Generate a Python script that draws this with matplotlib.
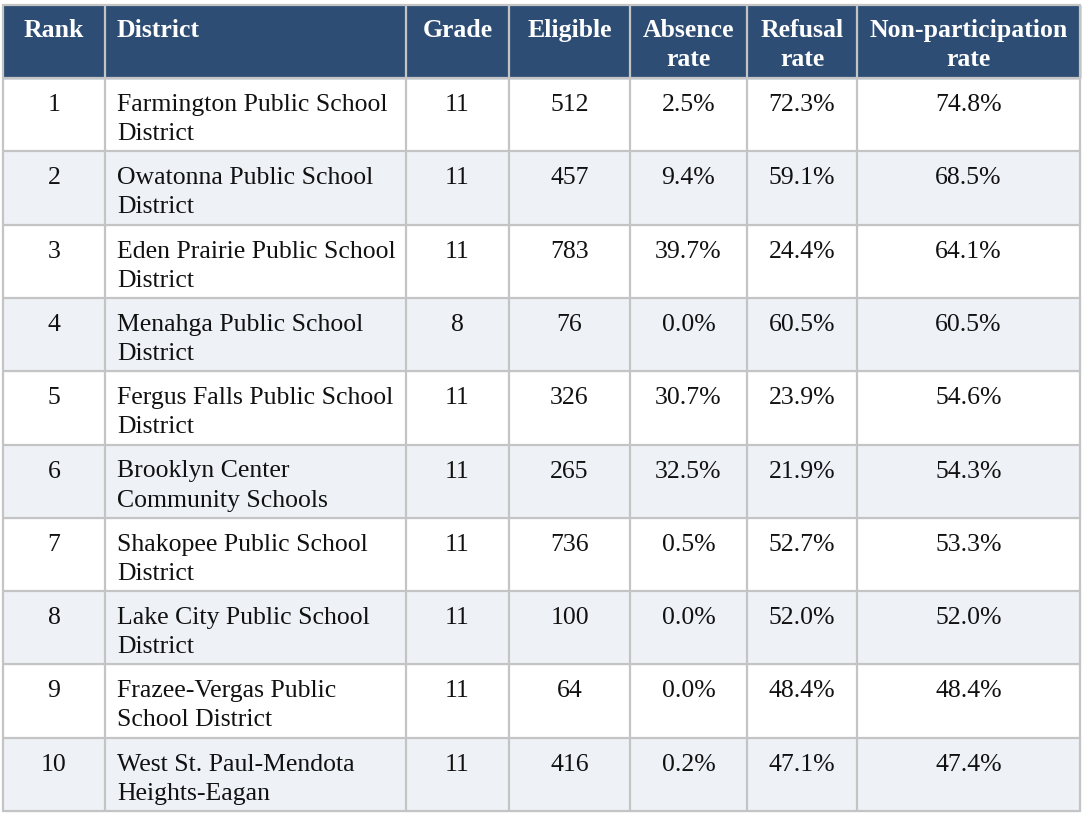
import matplotlib.pyplot as plt
from matplotlib.patches import Rectangle

plt.rcParams['font.family'] = ['Liberation Serif', 'DejaVu Serif']

headers = ['Rank', 'District', 'Grade', 'Eligible', 'Absence\nrate', 'Refusal\nrate',
           'Non-participation\nrate']
ranks = [1, 2, 3, 4, 5, 6, 7, 8, 9, 10]
districts = ['Farmington Public School\nDistrict',
             'Owatonna Public School\nDistrict',
             'Eden Prairie Public School\nDistrict',
             'Menahga Public School\nDistrict',
             'Fergus Falls Public School\nDistrict',
             'Brooklyn Center\nCommunity Schools',
             'Shakopee Public School\nDistrict',
             'Lake City Public School\nDistrict',
             'Frazee-Vergas Public\nSchool District',
             'West St. Paul-Mendota\nHeights-Eagan']
grades = [11, 11, 11, 8, 11, 11, 11, 11, 11, 11]
eligible = [512, 457, 783, 76, 326, 265, 736, 100, 64, 416]
absence = [2.5, 9.4, 39.7, 0.0, 30.7, 32.5, 0.5, 0.0, 0.0, 0.2]
refusal = [72.3, 59.1, 24.4, 60.5, 23.9, 21.9, 52.7, 52.0, 48.4, 47.1]
nonpart = [74.8, 68.5, 64.1, 60.5, 54.6, 54.3, 53.3, 52.0, 48.4, 47.4]

# layout in pixels
col_edges = [3, 105, 406, 509, 630, 747, 857, 1080]
header_top, header_bot = 5, 78
row_h = 73.3
line_h = 29
first_base = 33
fs = 18.5
header_color = '#2e4d75'
stripe = '#eef1f6'
grid = '#c4c4c4'

fig = plt.figure(figsize=(10.84, 8.14), dpi=100)
ax = fig.add_axes([0, 0, 1, 1])
ax.set_xlim(0, 1084)
ax.set_ylim(814, 0)
ax.axis('off')


def put(j, y, s, **kw):
    if j == 1:
        ax.text(col_edges[1] + 12, y, s, ha='left', va='baseline', fontsize=fs, **kw)
    else:
        xc = (col_edges[j] + col_edges[j + 1]) / 2
        ax.text(xc, y, s, ha='center', va='baseline', fontsize=fs, **kw)


# header
ax.add_patch(Rectangle((col_edges[0], header_top), col_edges[-1] - col_edges[0],
                       header_bot - header_top, color=header_color, zorder=1))
for j, h in enumerate(headers):
    for k, ln in enumerate(h.split('\n')):
        put(j, header_top + 32 + k * line_h, ln, color='white', fontweight='bold')

# body
n = len(ranks)
for i in range(n):
    top = header_bot + i * row_h
    if i % 2 == 1:
        ax.add_patch(Rectangle((col_edges[0], top), col_edges[-1] - col_edges[0], row_h,
                               color=stripe, zorder=1))
    cells = [str(ranks[i]), districts[i], str(grades[i]), str(eligible[i]),
             f'{absence[i]:.1f}%', f'{refusal[i]:.1f}%', f'{nonpart[i]:.1f}%']
    for j, c in enumerate(cells):
        for k, ln in enumerate(c.split('\n')):
            put(j, top + first_base + k * line_h, ln, color='#111111')

# grid lines
bottom = header_bot + n * row_h
for x in col_edges:
    ax.plot([x, x], [header_top, bottom], color=grid, lw=1.6, zorder=3,
            solid_capstyle='butt')
ys = [header_top] + [header_bot + i * row_h for i in range(n + 1)]
for y in ys:
    ax.plot([col_edges[0] - 0.8, col_edges[-1] + 0.8], [y, y], color=grid, lw=1.6, zorder=3,
            solid_capstyle='butt')

fig.savefig('out.png', dpi=100)
